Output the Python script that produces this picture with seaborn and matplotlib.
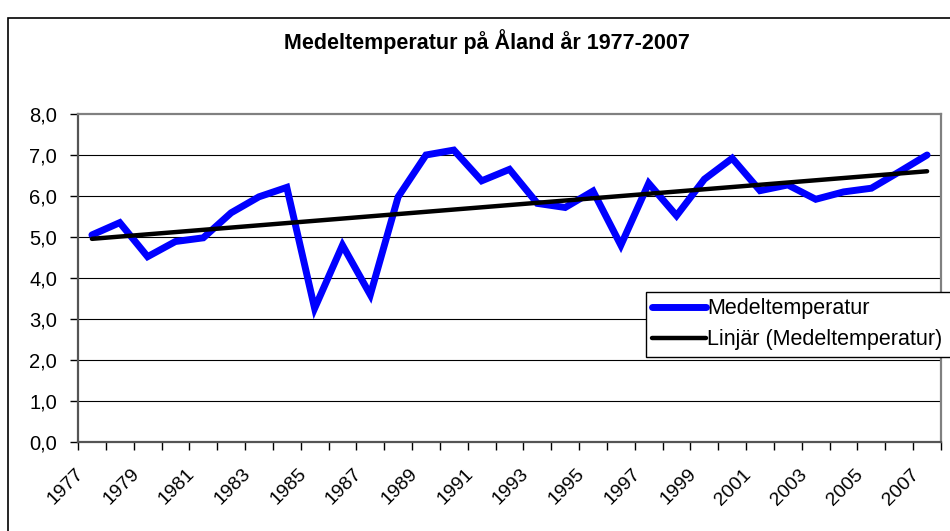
import numpy as np
import pandas as pd
import matplotlib
matplotlib.use("Agg")
import matplotlib.pyplot as plt
import matplotlib.transforms as mtransforms
from matplotlib.patches import Rectangle
from matplotlib.ticker import FuncFormatter
import seaborn as sns

# === Data ===
years = list(range(1977, 2008))
temps = [5.05, 5.35, 4.52, 4.89, 4.98, 5.59, 5.98, 6.21, 3.26, 4.80,
         3.59, 5.98, 7.00, 7.12, 6.37, 6.65, 5.82, 5.72, 6.12, 4.80,
         6.31, 5.52, 6.41, 6.92, 6.13, 6.27, 5.92, 6.10, 6.19, 6.59, 7.00]
label_years = years[::2]
title = "Medeltemperatur på Åland år 1977-2007"
series_name = "Medeltemperatur"
trend_name = "Linjär (Medeltemperatur)"

df = pd.DataFrame({"year": years, "temp": temps})

sns.set_style("white")
plt.rcParams["font.family"] = ["Liberation Sans", "DejaVu Sans"]
plt.rcParams["text.color"] = "black"
plt.rcParams["xtick.color"] = "black"
plt.rcParams["ytick.color"] = "black"

fig = plt.figure(figsize=(9.5, 5.31), dpi=100)
ax = fig.add_axes([78 / 950, 89 / 531, 863 / 950, 328 / 531])

# gridlines
for v in range(1, 8):
    ax.axhline(v, color="black", lw=0.8, zorder=1)

sns.lineplot(data=df, x="year", y="temp", ax=ax, color="#0000FF", lw=5,
             label=series_name, zorder=3, solid_joinstyle="miter")
# linear trend ("Linjär") fitted from the same data
sns.regplot(data=df, x="year", y="temp", ax=ax, scatter=False, ci=None,
            truncate=True, label=trend_name,
            line_kws={"color": "black", "lw": 3.2, "zorder": 4,
                      "solid_capstyle": "round"})

ax.set_xlim(years[0] - 0.5, years[-1] + 0.5)
ax.set_ylim(0, 8)
ax.set_xlabel("")
ax.set_ylabel("")

# y axis
ax.set_yticks(range(0, 9))
ax.yaxis.set_major_formatter(FuncFormatter(lambda v, p: f"{v:.1f}".replace(".", ",")))
ax.tick_params(axis="y", left=True, length=6, width=1, color="black",
               labelsize=14.5, labelcolor="black", pad=9)

# x axis: tick marks at category boundaries, labels at every other year
ax.set_xticks([y - 0.5 for y in years] + [years[-1] + 0.5])
ax.set_xticklabels([])
ax.tick_params(axis="x", which="major", bottom=True, length=6, width=1, color="black")
ax.set_xticks(label_years, minor=True)
ax.set_xticklabels([str(y) for y in label_years], minor=True, rotation=45,
                   ha="right", va="top", rotation_mode="anchor", fontsize=14,
                   color="black")
ax.tick_params(axis="x", which="minor", bottom=True, length=0, pad=17)
shift = mtransforms.ScaledTranslation(-17 / 100, 0, fig.dpi_scale_trans)
for lbl in ax.get_xticklabels(minor=True):
    lbl.set_transform(lbl.get_transform() + shift)

for side in ["top", "right"]:
    ax.spines[side].set_color("#808080")
    ax.spines[side].set_linewidth(1.6)
for side in ["left", "bottom"]:
    ax.spines[side].set_color("#555555")
    ax.spines[side].set_linewidth(1.6)

# legend box runs past the right edge of the picture, as in the original
leg = ax.legend(loc="upper left", bbox_to_anchor=(646 / 950, 1 - 292 / 531, 330 / 950, 0),
                bbox_transform=fig.transFigure, mode="expand", frameon=True,
                fancybox=False, fontsize=15.5, handlelength=2.5, handletextpad=0.05,
                borderpad=0.3, labelspacing=0.45, borderaxespad=0)
leg.get_frame().set_edgecolor("black")
leg.get_frame().set_linewidth(1)
leg.get_frame().set_alpha(1)
for t in leg.get_texts():
    t.set_color("black")

fig.text(487 / 950, 1 - 42 / 531, title, ha="center", va="center",
         fontsize=15.5, fontweight="bold", color="black")

# chart area border
fig.patches.append(Rectangle((8 / 950, -0.1), 1.2, 1 - 18 / 531 + 0.1,
                             transform=fig.transFigure, fill=False,
                             edgecolor="black", lw=1.2, clip_on=False))

fig.savefig("out.png", dpi=100)
